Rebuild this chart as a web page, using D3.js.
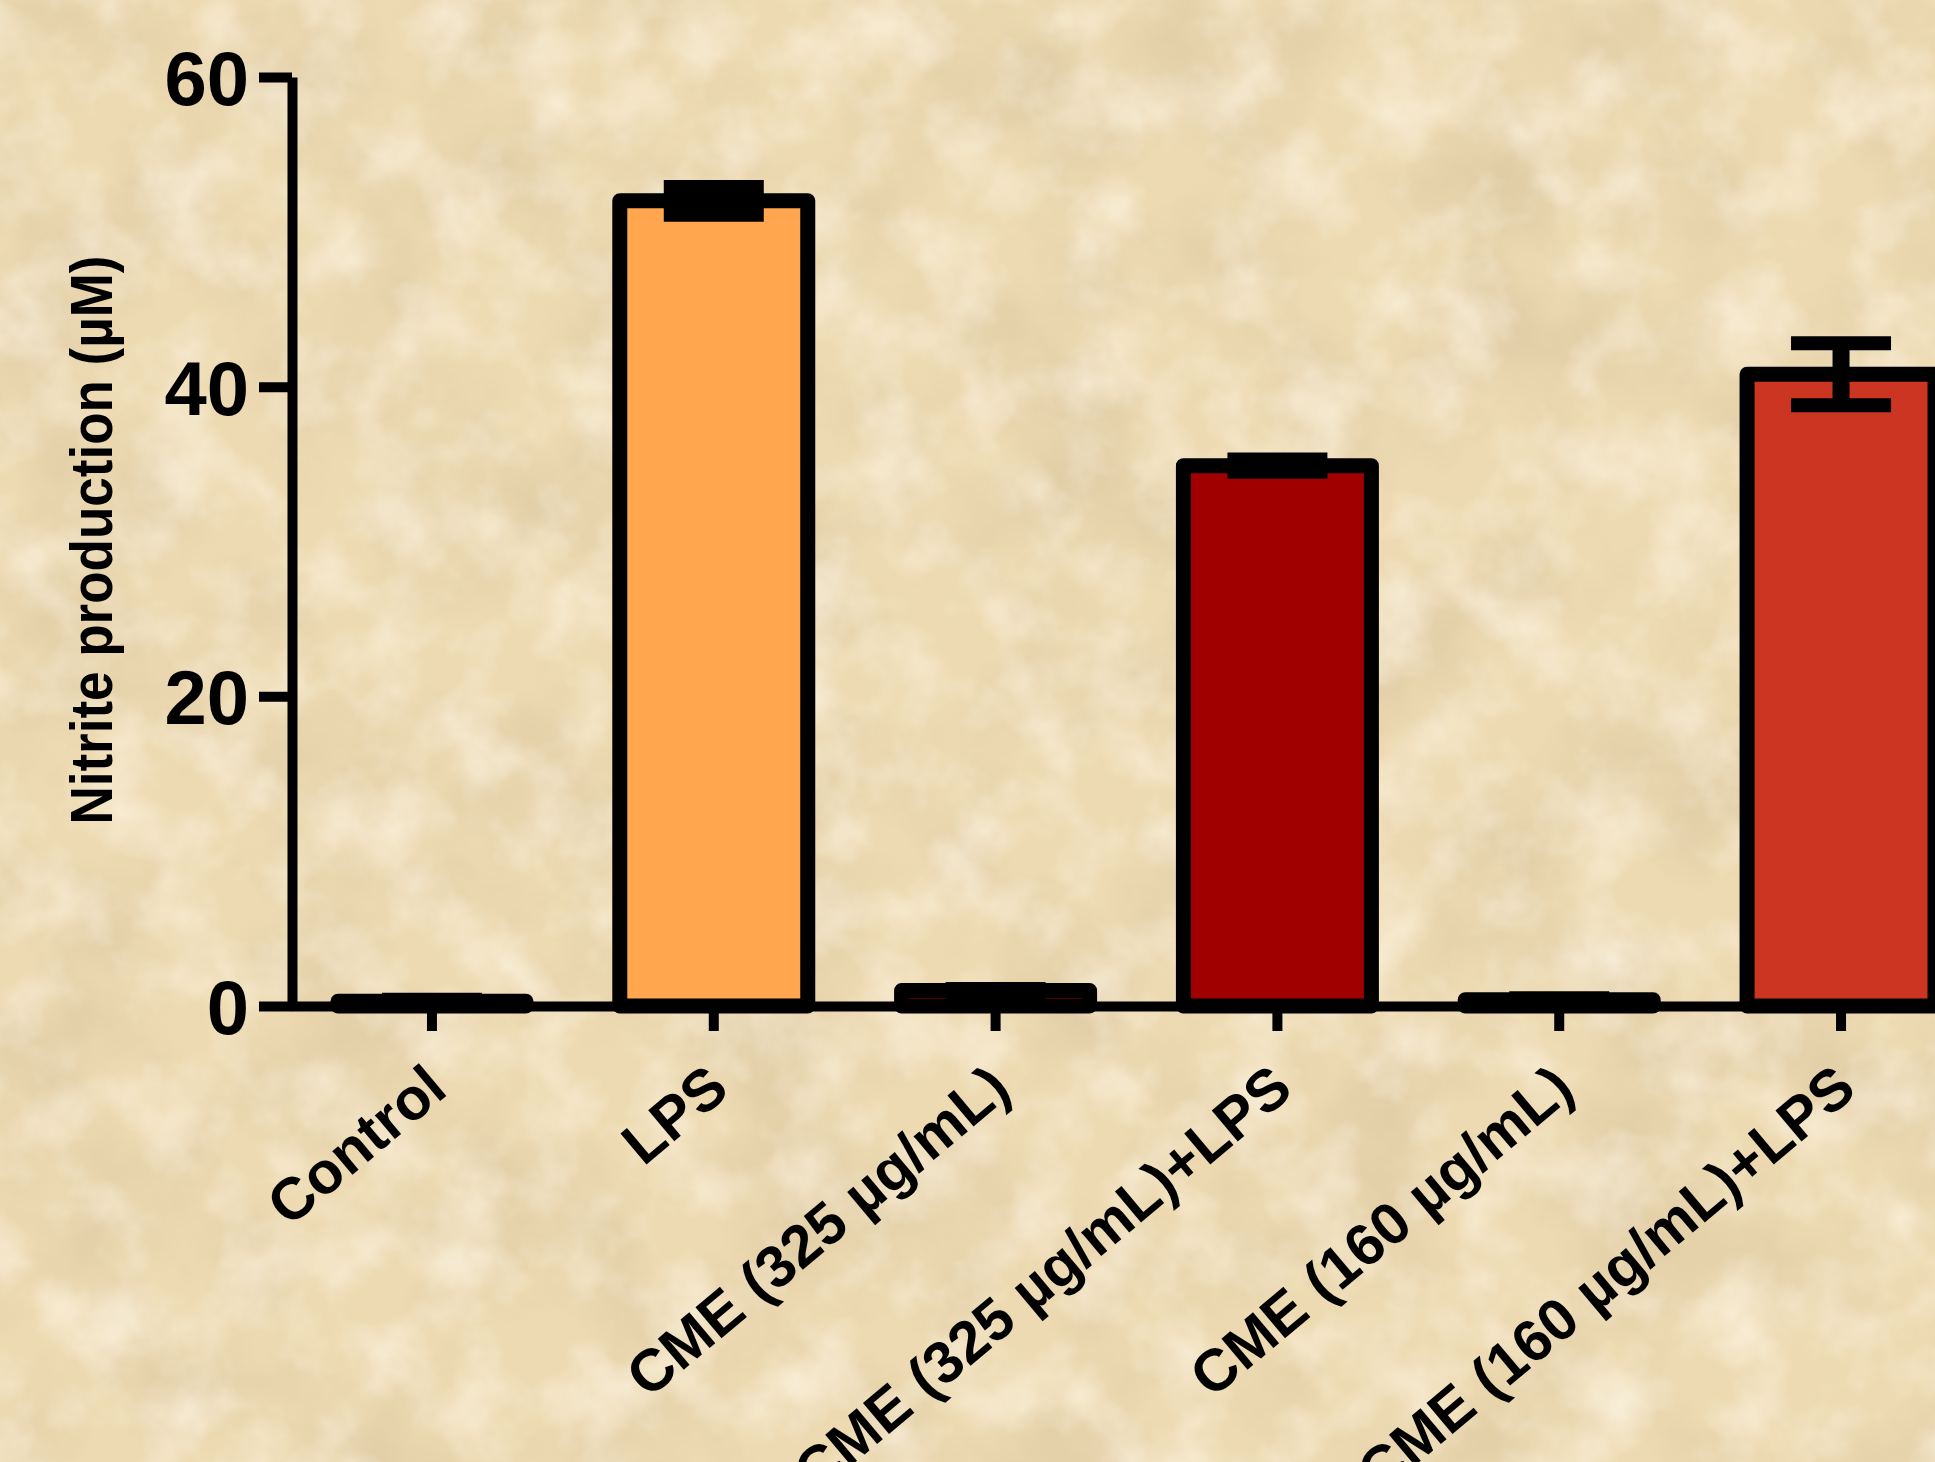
<!DOCTYPE html>
<html lang="en">
<head>
    <meta charset="UTF-8">
    <title>Nitrite production</title>
    <script src="https://cdn.jsdelivr.net/npm/d3@7"></script>
    <style>
        html, body { margin: 0; padding: 0; background: #efdcb4; }
        svg { display: block; }
        text { font-family: "Liberation Sans", Arial, sans-serif; font-weight: bold; fill: #000; }
    </style>
</head>
<body>
<svg width="1935" height="1462" xmlns="http://www.w3.org/2000/svg" id="chart">
    <defs>
        <!-- parchment look for the background -->
        <filter id="paper" x="0" y="0" width="100%" height="100%">
            <feTurbulence type="fractalNoise" baseFrequency="0.007" numOctaves="5" seed="7" result="n"/>
            <feColorMatrix in="n" type="matrix"
                           values="0 0 0 0 0.66  0 0 0 0 0.52  0 0 0 0 0.32  1.1 0 0 0 -0.45"/>
        </filter>
        <filter id="paperLight" x="0" y="0" width="100%" height="100%">
            <feTurbulence type="fractalNoise" baseFrequency="0.014" numOctaves="4" seed="21" result="n"/>
            <feColorMatrix in="n" type="matrix"
                           values="0 0 0 0 1  0 0 0 0 0.96  0 0 0 0 0.86  1.2 0 0 0 -0.5"/>
        </filter>
    </defs>
    <rect width="1935" height="1462" fill="#eddab2"/>
    <rect width="1935" height="1462" filter="url(#paper)"/>
    <rect width="1935" height="1462" filter="url(#paperLight)"/>
</svg>
<script>
    // 数据
    const categories = ["Control", "LPS", "CME (325 µg/mL)", "CME (325 µg/mL)+LPS", "CME (160 µg/mL)", "CME (160 µg/mL)+LPS"];
    const means = [0.3, 52.0, 1.0, 34.9, 0.4, 40.8];
    const sems = [0.1, 0.9, 0.1, 0.4, 0.1, 2.0];
    const fills = ["#ffffff", "#ffa64f", "#a00000", "#a00000", "#cc3522", "#cc3522"];
    const yTicks = [0, 20, 40, 60];

    const svg = d3.select("#chart");

    const x = d3.scaleBand()
        .domain(categories)
        .range([291, 1982])
        .paddingInner(0.333)
        .paddingOuter(0.1667);

    const y = d3.scaleLinear()
        .domain([0, 60])
        .range([1006, 77]);

    // bars
    svg.append("g").selectAll("rect")
        .data(categories)
        .join("rect")
        .attr("x", d => x(d))
        .attr("y", (d, i) => y(means[i]))
        .attr("width", x.bandwidth())
        .attr("height", (d, i) => y(0) - y(means[i]))
        .attr("fill", (d, i) => fills[i])
        .attr("stroke", "#000")
        .attr("stroke-width", 15)
        .attr("stroke-linejoin", "round");

    // error bars
    const capW = 100;
    const err = svg.append("g").attr("stroke", "#000");
    categories.forEach((c, i) => {
        const cx = x(c) + x.bandwidth() / 2;
        const hi = y(means[i] + sems[i]);
        const lo = y(means[i] - sems[i]);
        err.append("line")
            .attr("x1", cx).attr("x2", cx)
            .attr("y1", hi).attr("y2", lo)
            .attr("stroke-width", 17);
        err.append("line")
            .attr("x1", cx - capW / 2).attr("x2", cx + capW / 2)
            .attr("y1", hi).attr("y2", hi)
            .attr("stroke-width", 14);
        err.append("line")
            .attr("x1", cx - capW / 2).attr("x2", cx + capW / 2)
            .attr("y1", lo).attr("y2", lo)
            .attr("stroke-width", 14);
    });

    // y axis
    const yAxis = svg.append("g")
        .attr("transform", "translate(292,0)")
        .call(d3.axisLeft(y).tickValues(yTicks).tickSize(33).tickSizeOuter(0).tickPadding(10));
    yAxis.select(".domain").attr("stroke-width", 10);
    yAxis.selectAll(".tick line").attr("stroke-width", 10);
    yAxis.selectAll(".tick text")
        .attr("font-size", 76)
        .attr("font-family", "Liberation Sans, Arial, sans-serif")
        .attr("font-weight", "bold")
        .attr("dy", "0.36em");

    // x axis
    const xAxis = svg.append("g")
        .attr("transform", "translate(0,1006)")
        .call(d3.axisBottom(x).tickSize(25).tickSizeOuter(0));
    xAxis.select(".domain").attr("stroke-width", 10);
    xAxis.selectAll(".tick line").attr("stroke-width", 10);
    xAxis.selectAll(".tick text").remove();

    svg.append("g").selectAll("text")
        .data(categories)
        .join("text")
        .attr("transform", d => "translate(" + (x(d) + x.bandwidth() / 2 + 4) + ",1077) rotate(-40)")
        .attr("text-anchor", "end")
        .attr("dy", "0.36em")
        .attr("font-size", 59)
        .text(d => d);

    // y title
    svg.append("text")
        .attr("transform", "translate(90,540) rotate(-90)")
        .attr("text-anchor", "middle")
        .attr("dy", "0.36em")
        .attr("font-size", 60)
        .attr("textLength", 569)
        .attr("lengthAdjust", "spacingAndGlyphs")
        .text("Nitrite production (µM)");
</script>
</body>
</html>
